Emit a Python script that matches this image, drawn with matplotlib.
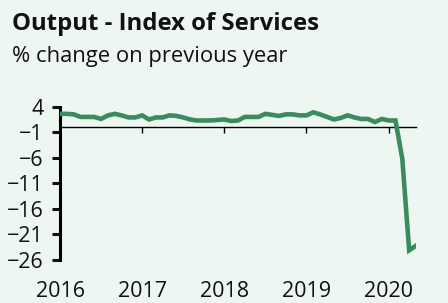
import numpy as np
import matplotlib
matplotlib.use("Agg")
import matplotlib.pyplot as plt

plt.rcParams['font.family'] = ['Open Sans', 'DejaVu Sans']

# monthly % change on previous year, Jan 2016 - May 2020
start_year = 2016
values = [2.6, 2.6, 2.5, 2.0, 2.0, 2.0, 1.6, 2.3, 2.6, 2.3, 1.9, 1.9,
          2.3, 1.5, 1.9, 1.9, 2.3, 2.2, 1.9, 1.5, 1.3, 1.3, 1.3, 1.4,
          1.5, 1.2, 1.3, 2.0, 2.0, 2.0, 2.6, 2.4, 2.2, 2.5, 2.5, 2.3,
          2.3, 2.9, 2.5, 2.0, 1.5, 1.8, 2.3, 1.9, 1.6, 1.6, 1.0, 1.6,
          1.3, 1.3, -6.2, -24.1, -23.2]
year_ticks = [2016, 2017, 2018, 2019, 2020]
y_ticks = [4, -1, -6, -11, -16, -21, -26]

bg = '#edf6f1'
green = '#3a8b5e'

x = start_year + np.arange(len(values)) / 12.0

fig = plt.figure(figsize=(4.48, 3.03), dpi=100, facecolor=bg)
ax = fig.add_axes([60 / 448, 1 - 260 / 303, 356 / 448, (260 - 106.7) / 303])
ax.set_facecolor(bg)

ax.plot(x, values, color=green, lw=3.3, solid_joinstyle='miter', zorder=3)

ax.set_xlim(x[0], x[-1])
ax.set_ylim(-26, 4)

# y axis
ax.spines['left'].set_linewidth(2.2)
ax.spines['right'].set_visible(False)
ax.spines['top'].set_visible(False)
ax.set_yticks(y_ticks)
ax.tick_params(axis='y', direction='out', length=6, width=2.2, pad=6,
               labelsize=15.5, colors='#111111')

# x axis on the zero line, labels at the bottom
ax.spines['bottom'].set_position(('data', 0))
ax.spines['bottom'].set_linewidth(1.0)
ax.set_xticks(year_ticks)
ax.tick_params(axis='x', direction='out', length=4, width=1.0, labelbottom=False)

sec = ax.secondary_xaxis(0)
sec.spines['bottom'].set_visible(False)
sec.set_xticks(year_ticks)
sec.set_xticklabels([str(t) for t in year_ticks])
sec.tick_params(axis='x', length=0, pad=15, labelsize=15.5, colors='#111111')

fig.text(12 / 448, 1 - 30.5 / 303, 'Output - Index of Services', fontsize=17.2,
         fontweight='bold', color='#111111', va='baseline', ha='left')
fig.text(12 / 448, 1 - 62 / 303, '% change on previous year', fontsize=15.8,
         color='#111111', va='baseline', ha='left')

fig.savefig('out.png', dpi=100, facecolor=bg)
